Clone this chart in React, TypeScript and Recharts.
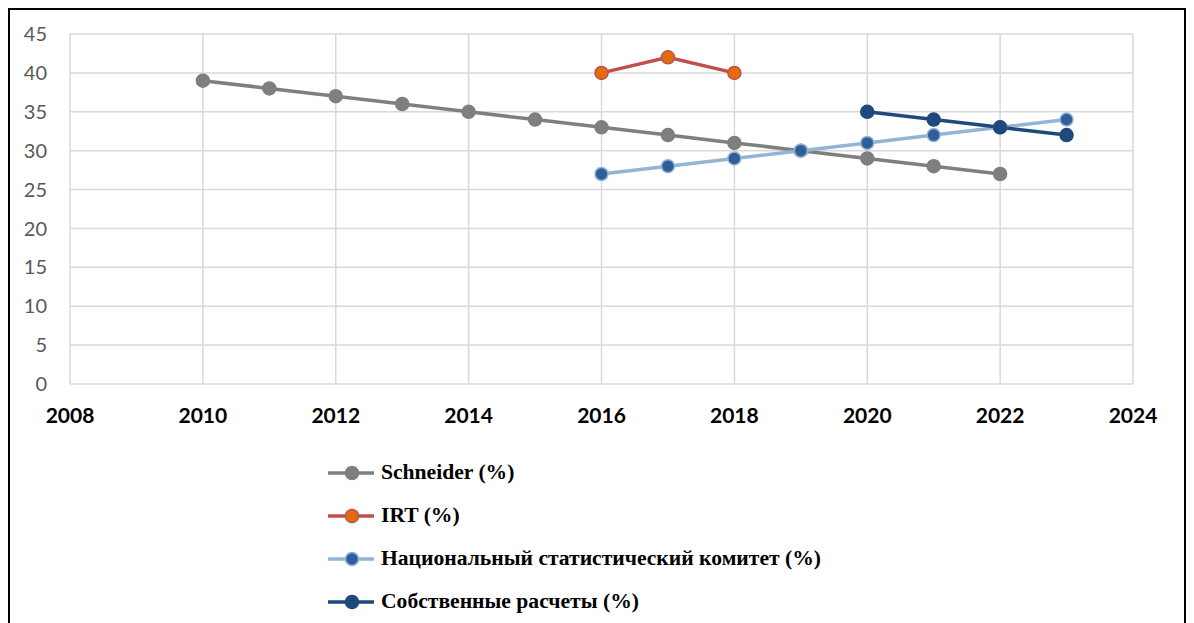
import { CartesianGrid, Legend, Line, LineChart, XAxis, YAxis } from "recharts";

const years = [2010, 2011, 2012, 2013, 2014, 2015, 2016, 2017, 2018, 2019, 2020, 2021, 2022, 2023];
const schneider = [39, 38, 37, 36, 35, 34, 33, 32, 31, 30, 29, 28, 27, null];
const irt = [null, null, null, null, null, null, 40, 42, 40, null, null, null, null, null];
const nsc = [null, null, null, null, null, null, 27, 28, 29, 30, 31, 32, 33, 34];
const own = [null, null, null, null, null, null, null, null, null, null, 35, 34, 33, 32];

const xTicks = [2008, 2010, 2012, 2014, 2016, 2018, 2020, 2022, 2024];
const yTicks = [0, 5, 10, 15, 20, 25, 30, 35, 40, 45];

const series = [
  { key: "schneider", name: "Schneider (%)", line: "#7f7f7f", fill: "#7f7f7f", dotStroke: "#7f7f7f" },
  { key: "irt", name: "IRT (%)", line: "#c0504d", fill: "#e46c0a", dotStroke: "#c0504d" },
  { key: "nsc", name: "Национальный статистический комитет (%)", line: "#95b3d7", fill: "#2f5f98", dotStroke: "#95b3d7" },
  { key: "own", name: "Собственные расчеты (%)", line: "#1f497d", fill: "#1f497d", dotStroke: "#1f497d" },
];

const data = years.map((year, i) => ({
  year,
  schneider: schneider[i],
  irt: irt[i],
  nsc: nsc[i],
  own: own[i],
}));

function LegendBox() {
  return (
    <div style={{ fontFamily: "'Liberation Serif', serif", fontWeight: "bold", fontSize: 21.6, color: "#000" }}>
      {series.map((s) => (
        <div key={s.key} style={{ display: "flex", alignItems: "center", height: 43 }}>
          <svg width={48} height={20} style={{ marginRight: 6 }}>
            <line x1={1} y1={10} x2={47} y2={10} stroke={s.line} strokeWidth={3.5} />
            <circle cx={25} cy={10} r={6.5} fill={s.fill} stroke={s.dotStroke} strokeWidth={1.5} />
          </svg>
          <span>{s.name}</span>
        </div>
      ))}
    </div>
  );
}

export default function App() {
  return (
    <div
      style={{
        width: 1178,
        height: 640,
        border: "2px solid #000",
        boxSizing: "border-box",
        background: "#fff",
      }}
    >
      <LineChart
        width={1174}
        height={613}
        data={data}
        margin={{ top: 24, right: 51, left: 10, bottom: 199 }}
      >
        <CartesianGrid stroke="#d9d9d9" strokeWidth={1.5} />
        <XAxis
          dataKey="year"
          type="number"
          domain={[2008, 2024]}
          ticks={xTicks}
          axisLine={false}
          tickLine={false}
          tickSize={0}
          tickMargin={24}
          height={40}
          tick={{ fill: "#000", fontSize: 21, fontWeight: "bold", fontFamily: "Lato" }}
        />
        <YAxis
          domain={[0, 45]}
          ticks={yTicks}
          axisLine={false}
          tickLine={false}
          tickSize={0}
          tickMargin={23}
          width={50}
          tick={{ fill: "#595959", fontSize: 20, fontFamily: "Lato" }}
        />
        <Legend
          layout="vertical"
          align="center"
          verticalAlign="middle"
          wrapperStyle={{ top: 441, left: 317, width: 700 }}
          content={() => <LegendBox />}
        />
        {series.map((s) => (
          <Line
            key={s.key}
            dataKey={s.key}
            name={s.name}
            stroke={s.line}
            strokeWidth={3.5}
            dot={{ r: 6.5, fill: s.fill, stroke: s.dotStroke, strokeWidth: 1.5 }}
            activeDot={false}
            isAnimationActive={false}
          />
        ))}
      </LineChart>
    </div>
  );
}
